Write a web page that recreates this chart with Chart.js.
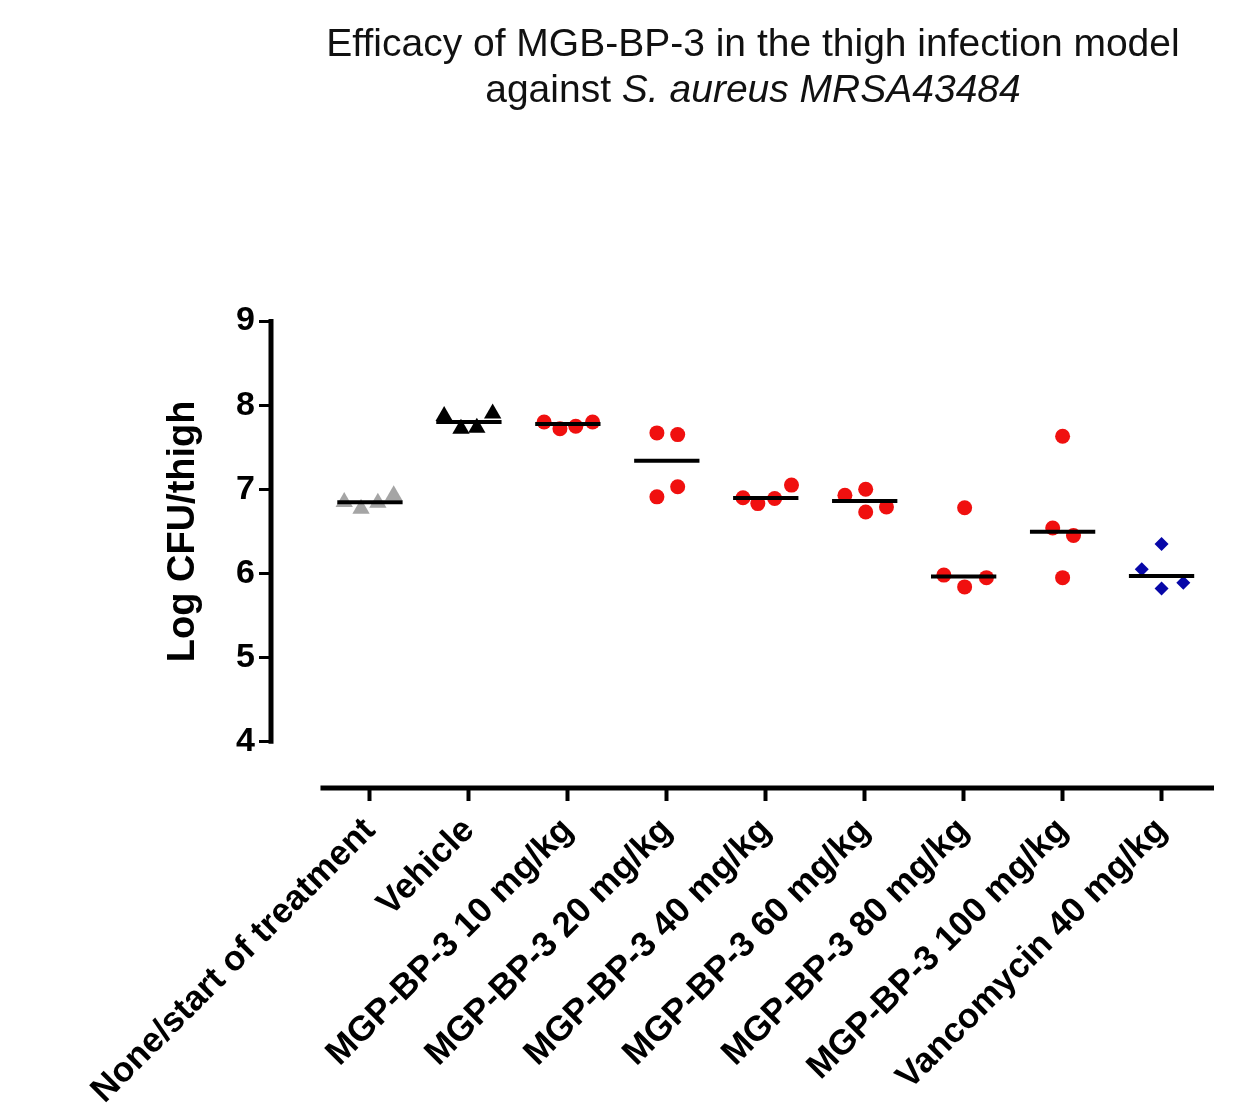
<!DOCTYPE html>
<html>
<head>
<meta charset="utf-8">
<script src="https://cdn.jsdelivr.net/npm/chart.js@4.4.1/dist/chart.umd.min.js"></script>
<style>
  html, body { margin: 0; padding: 0; background: #fff; }
  #wrap { position: relative; width: 1258px; height: 1113px; overflow: hidden; }
  #chart { position: absolute; left: 0; top: 0; }
  #title {
    position: absolute; left: 253px; width: 1000px; top: 20px;
    text-align: center; color: #111;
    font-family: "Liberation Sans", Arial, sans-serif;
    font-size: 39px; line-height: 46px;
  }
</style>
</head>
<body>
<div id="wrap">
  <canvas id="chart" width="1258" height="1113"></canvas>
  <div id="title">Efficacy of MGB-BP-3 in the thigh infection model<br>against <i>S. aureus MRSA43484</i></div>
</div>
<script>
// groups along the x axis
const categories = [
  'None/start of treatment',
  'Vehicle',
  'MGP-BP-3 10 mg/kg',
  'MGP-BP-3 20 mg/kg',
  'MGP-BP-3 40 mg/kg',
  'MGP-BP-3 60 mg/kg',
  'MGP-BP-3 80 mg/kg',
  'MGP-BP-3 100 mg/kg',
  'Vancomycin 40 mg/kg'
];

// Log CFU/thigh, one value per animal
const noneStart = [6.85, 6.77, 6.84, 6.93];
const vehicle = [7.87, 7.72, 7.73, 7.90];
const mgb10 = [7.80, 7.72, 7.75, 7.80];
const mgb20 = [7.67, 7.65, 6.91, 7.03];
const mgb40 = [6.90, 6.83, 6.89, 7.05];
const mgb60 = [6.93, 7.00, 6.73, 6.79];
const mgb80 = [6.78, 5.98, 5.84, 5.95];
const mgb100 = [7.63, 6.54, 6.45, 5.95];
const vanco40 = [6.35, 6.05, 5.89, 5.82];

const yTicks = [4, 5, 6, 7, 8, 9];

const groups = [noneStart, vehicle, mgb10, mgb20, mgb40, mgb60, mgb80, mgb100, vanco40];

// horizontal scatter of the points inside a column (in category widths)
const xJitter = [
  [-0.26, -0.09, 0.08, 0.24],
  [-0.25, -0.08, 0.08, 0.24],
  [-0.24, -0.08, 0.08, 0.25],
  [-0.10, 0.11, -0.10, 0.11],
  [-0.23, -0.08, 0.09, 0.26],
  [-0.20, 0.01, 0.01, 0.22],
  [0.01, -0.20, 0.01, 0.23],
  [0.00, -0.10, 0.11, 0.00],
  [0.00, -0.20, 0.22, 0.00]
];

const RED = '#f0100f';
const markers = [
  { style: 'triangle', color: '#a5a5a5', r: 10 },
  { style: 'triangle', color: '#000000', r: 10 },
  { style: 'circle', color: RED, r: 7.5 },
  { style: 'circle', color: RED, r: 7.5 },
  { style: 'circle', color: RED, r: 7.5 },
  { style: 'circle', color: RED, r: 7.5 },
  { style: 'circle', color: RED, r: 7.5 },
  { style: 'circle', color: RED, r: 7.5 },
  { style: 'rectRot', color: '#0707a8', r: 7 }
];

function median(arr) {
  const s = [...arr].sort((a, b) => a - b);
  const m = Math.floor(s.length / 2);
  return s.length % 2 ? s[m] : (s[m - 1] + s[m]) / 2;
}

const datasets = [];
groups.forEach((vals, i) => {
  const mk = markers[i];
  datasets.push({
    label: categories[i],
    data: vals.map((v, j) => ({ x: i + xJitter[i][j], y: v })),
    pointStyle: mk.style,
    pointRadius: mk.r,
    backgroundColor: mk.color,
    borderColor: mk.color,
    borderWidth: 0,
    order: 2
  });
  const med = median(vals);
  datasets.push({
    label: categories[i] + ' median',
    data: [{ x: i - 0.33, y: med }, { x: i + 0.33, y: med }],
    showLine: true,
    borderColor: '#000',
    borderWidth: 4,
    pointRadius: 0,
    order: 1
  });
});

const FONT = '"Liberation Sans", Arial, sans-serif';

const axisLines = {
  id: 'axisLines',
  afterDraw(chart) {
    const { ctx, chartArea, scales: { x, y } } = chart;
    ctx.save();
    ctx.strokeStyle = '#000';
    ctx.lineWidth = 5;
    ctx.beginPath();
    ctx.moveTo(chartArea.left, y.getPixelForValue(yTicks[yTicks.length - 1]) - 2);
    ctx.lineTo(chartArea.left, y.getPixelForValue(yTicks[0]) + 2);
    ctx.moveTo(x.getPixelForValue(-0.5), chartArea.bottom);
    ctx.lineTo(chartArea.right, chartArea.bottom);
    ctx.stroke();

    const midY = y.getPixelForValue((yTicks[0] + yTicks[yTicks.length - 1]) / 2);
    ctx.translate(chartArea.left - 77, midY);
    ctx.rotate(-Math.PI / 2);
    ctx.fillStyle = '#000';
    ctx.font = 'bold 38px ' + FONT;
    ctx.textAlign = 'center';
    ctx.textBaseline = 'alphabetic';
    ctx.fillText('Log CFU/thigh', 0, 0);
    ctx.restore();
  }
};

new Chart(document.getElementById('chart'), {
  type: 'scatter',
  data: { datasets },
  plugins: [axisLines],
  options: {
    responsive: false,
    animation: false,
    layout: { padding: { left: 0, right: 44, top: 321, bottom: 0 } },
    plugins: { legend: { display: false }, tooltip: { enabled: false } },
    scales: {
      x: {
        type: 'linear',
        min: -1,
        max: 8.53,
        afterBuildTicks: (scale) => { scale.ticks = categories.map((c, i) => ({ value: i })); },
        afterFit: (scale) => { scale.height = 325; scale.paddingLeft = 0; scale.paddingRight = 0; },
        ticks: {
          autoSkip: false,
          minRotation: 45,
          maxRotation: 45,
          padding: 9,
          color: '#000',
          font: { family: FONT, size: 35, weight: 'bold' },
          callback: (v) => categories[v]
        },
        grid: { drawOnChartArea: false, drawTicks: true, tickLength: 13, tickWidth: 4, color: '#000' },
        border: { display: false }
      },
      y: {
        min: 3.45,
        max: 9,
        afterBuildTicks: (scale) => { scale.ticks = yTicks.map(v => ({ value: v })); },
        afterFit: (scale) => { scale.width = 271; },
        ticks: {
          padding: 4,
          color: '#000',
          font: { family: FONT, size: 34, weight: 'bold' }
        },
        grid: { drawOnChartArea: false, drawTicks: true, tickLength: 12, tickWidth: 3, color: '#000' },
        border: { display: false }
      }
    }
  }
});
</script>
</body>
</html>
